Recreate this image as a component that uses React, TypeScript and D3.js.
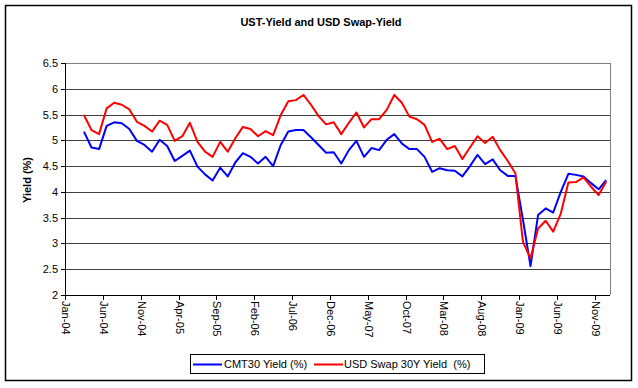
import React from 'react';
import * as d3 from 'd3';

// monthly observations, Mar-04 .. Dec-09
const startMonth = 2; // index of Mar-04 on the Jan-04 based axis
const cmt30 = [
  5.17, 4.86, 4.83, 5.28, 5.35, 5.33, 5.22, 4.99, 4.91, 4.78, 5.01, 4.89, 4.60, 4.70, 4.80, 4.49, 4.34, 4.22, 4.47, 4.30, 4.57, 4.75, 4.68, 4.55,
  4.68, 4.50, 4.91, 5.17, 5.20, 5.20, 5.06, 4.91, 4.76, 4.77, 4.55, 4.81, 4.99, 4.68, 4.85, 4.81, 5.01, 5.12, 4.94, 4.83, 4.83, 4.68, 4.39, 4.46,
  4.42, 4.41, 4.30, 4.50, 4.72, 4.54, 4.63, 4.42, 4.31, 4.31,
  3.46, 2.56, 3.55, 3.68, 3.60, 4.00, 4.35, 4.33, 4.30, 4.17, 4.05, 4.23,
];
const swap30 = [
  5.49, 5.20, 5.12, 5.62, 5.73, 5.69, 5.60, 5.36, 5.28, 5.17, 5.38, 5.30, 4.99, 5.08, 5.34, 4.97, 4.78, 4.68, 4.97, 4.78, 5.04, 5.26, 5.22, 5.08,
  5.18, 5.10, 5.49, 5.76, 5.78, 5.88, 5.69, 5.47, 5.31, 5.35, 5.12, 5.34, 5.54, 5.25, 5.41, 5.41, 5.59, 5.88, 5.73, 5.46, 5.41, 5.30, 4.97, 5.03,
  4.83, 4.89, 4.64, 4.86, 5.08, 4.95, 5.07, 4.81, 4.60, 4.36,
  3.03, 2.71, 3.29, 3.44, 3.23, 3.58, 4.18, 4.19, 4.28, 4.10, 3.94, 4.20,
];
const monthNames = ['Jan', 'Feb', 'Mar', 'Apr', 'May', 'Jun', 'Jul', 'Aug', 'Sep', 'Oct', 'Nov', 'Dec'];
const years = ['04', '05', '06', '07', '08', '09'];
const yTicks = [2, 2.5, 3, 3.5, 4, 4.5, 5, 5.5, 6, 6.5];
const seriesNames = ['CMT30 Yield (%)', 'USD Swap 30Y Yield  (%)'];

const months = years.flatMap((y) => monthNames.map((m) => `${m}-${y}`));

const font = '"Liberation Sans", Arial, sans-serif';

export default function App() {
  const width = 638;
  const height = 388;
  const left = 65, right = 610, top = 63, bottom = 295;

  const x = d3.scaleBand<string>().domain(months).range([left, right]);
  const y = d3.scaleLinear().domain([2, 6.5]).range([bottom, top]);
  const cx = (i: number) => (x(months[i + startMonth]) as number) + x.bandwidth() / 2;

  const line = d3
    .line<number>()
    .x((_, i) => cx(i))
    .y((d) => y(d));

  const xTickMonths = months.filter((_, i) => i % 5 === 0);

  return (
    <svg width={width} height={height} style={{ position: 'absolute', left: 0, top: 0 }}>
      <rect x={0} y={0} width={width} height={height} fill="#fff" />
      <rect x={5.5} y={5.5} width={626} height={375} fill="none" stroke="#000" strokeWidth={1.5} />

      <text x={321} y={26} textAnchor="middle" fontFamily={font} fontSize={11} fontWeight="bold">
        UST-Yield and USD Swap-Yield
      </text>

      {/* grid */}
      {yTicks.map((t) => (
        <line key={t} x1={left} x2={right} y1={Math.round(y(t)) + 0.5} y2={Math.round(y(t)) + 0.5}
          stroke={t === 6.5 ? '#808080' : '#404040'} strokeWidth={1} />
      ))}
      <line x1={right + 0.5} x2={right + 0.5} y1={top} y2={bottom} stroke="#808080" />

      {/* y axis */}
      <line x1={left + 0.5} x2={left + 0.5} y1={top} y2={bottom + 1} stroke="#000" />
      {yTicks.map((t) => (
        <g key={t}>
          <line x1={left - 4} x2={left} y1={Math.round(y(t)) + 0.5} y2={Math.round(y(t)) + 0.5} stroke="#000" />
          <text x={left - 7} y={y(t) + 4} textAnchor="end" fontFamily={font} fontSize={11}>{t}</text>
        </g>
      ))}
      <text transform="translate(31,180) rotate(-90)" textAnchor="middle" fontFamily={font} fontSize={11} fontWeight="bold">
        Yield (%)
      </text>

      {/* x axis */}
      <line x1={left} x2={right} y1={bottom + 0.5} y2={bottom + 0.5} stroke="#000" />
      {xTickMonths.map((m) => {
        const px = Math.round(x(m) as number) + 0.5;
        return (
          <g key={m}>
            <line x1={px} x2={px} y1={bottom} y2={bottom + 5} stroke="#000" />
            <text transform={`translate(${px - 4},${bottom + 6}) rotate(90)`} textAnchor="start" fontFamily={font} fontSize={11}>
              {m}
            </text>
          </g>
        );
      })}

      {/* series */}
      <path d={line(cmt30) ?? ''} fill="none" stroke="#0000ff" strokeWidth={2} strokeLinejoin="round" />
      <path d={line(swap30) ?? ''} fill="none" stroke="#ff0000" strokeWidth={2} strokeLinejoin="round" />

      {/* legend */}
      <rect x={190.5} y={354.5} width={294} height={19} fill="#fff" stroke="#000" />
      <line x1={193} x2={222} y1={364.5} y2={364.5} stroke="#0000ff" strokeWidth={2} />
      <text x={224} y={368} fontFamily={font} fontSize={11}>{seriesNames[0]}</text>
      <line x1={314} x2={343} y1={364.5} y2={364.5} stroke="#ff0000" strokeWidth={2} />
      <text x={344} y={368} fontFamily={font} fontSize={11} style={{ whiteSpace: 'pre' }}>{seriesNames[1]}</text>
    </svg>
  );
}
